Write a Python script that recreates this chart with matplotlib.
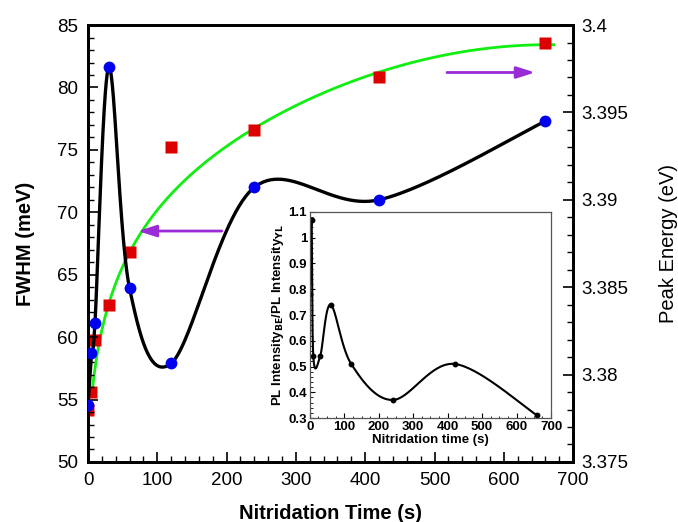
import numpy as np
import matplotlib
matplotlib.use("Agg")
import matplotlib.pyplot as plt
from matplotlib.ticker import MultipleLocator

plt.rcParams['font.family'] = ['Liberation Sans', 'DejaVu Sans']

# ---------------- data ----------------
time_s = [0, 5, 10, 30, 60, 120, 240, 420, 660]
fwhm_meV = [54.6, 58.7, 61.1, 81.6, 63.9, 57.9, 72.0, 71.0, 77.3]
peak_energy_eV = [3.3780, 3.3790, 3.3820, 3.3840, 3.3870, 3.3930, 3.3940, 3.3970, 3.3990]

# green fit curve
fit_t = [6.5, 15, 24.5, 36.5, 58, 92, 140, 188, 239, 284, 356, 421, 494, 566, 638, 672]
fit_E = [3.3788, 3.3820, 3.3837, 3.3848, 3.3864, 3.3887, 3.3913, 3.3930, 3.3940,
         3.3950, 3.3966, 3.3972, 3.3980, 3.3986, 3.3989, 3.3989]

# inset: PL intensity ratio
inset_t = [0, 5, 10, 30, 60, 120, 240, 420, 660]
inset_ratio = [0.78, 1.07, 0.54, 0.54, 0.74, 0.51, 0.37, 0.51, 0.31]

main_xticks = [0, 100, 200, 300, 400, 500, 600, 700]
left_yticks = [50, 55, 60, 65, 70, 75, 80, 85]
right_yticks = [3.375, 3.38, 3.385, 3.39, 3.395, 3.4]
right_yticklabels = ['3.375', '3.38', '3.385', '3.39', '3.395', '3.4']
inset_yticks = [0.3, 0.4, 0.5, 0.6, 0.7, 0.8, 0.9, 1.0, 1.1]
inset_yticklabels = ['0.3', '0.4', '0.5', '0.6', '0.7', '0.8', '0.9', '1', '1.1']


def catmull_rom(x, y, n=60):
    x = np.asarray(x, float)
    y = np.asarray(y, float)
    P = np.column_stack([x, y])
    P = np.vstack([P[0], P, P[-1]])
    out = []
    for i in range(1, len(P) - 2):
        p0, p1, p2, p3 = P[i - 1], P[i], P[i + 1], P[i + 2]
        t = np.linspace(0, 1, n)[:, None]
        seg = 0.5 * ((2 * p1) + (-p0 + p2) * t + (2 * p0 - 5 * p1 + 4 * p2 - p3) * t ** 2
                     + (-p0 + 3 * p1 - 3 * p2 + p3) * t ** 3)
        out.append(seg if i == 1 else seg[1:])
    out = np.vstack(out)
    return out[:, 0], out[:, 1]


fig = plt.figure(figsize=(6.78, 5.22), dpi=100)
ax = fig.add_axes([0.1298, 0.115, 0.7155, 0.837])
ax2 = ax.twinx()

# black smooth curve through FWHM
cx, cy = catmull_rom(time_s, fwhm_meV)
ax.plot(cx, cy, color='black', lw=2.4, zorder=2)
ax.plot(time_s, fwhm_meV, 'o', color='#0000EE', ms=8.5, mec='none', zorder=5)

# green fit (smooth least-squares curve through the read fit points)
u = np.sqrt(np.asarray(fit_t, float))
coef = np.polyfit(u, np.asarray(fit_E, float), 4)
uu = np.linspace(u[0], u[-1], 300)
ax2.plot(uu ** 2, np.polyval(coef, uu), color='#11EE11', lw=2.0, zorder=3)
ax2.plot(time_s, peak_energy_eV, 's', color='#DD0000', ms=9, mec='none', zorder=6)
ax.set_zorder(ax2.get_zorder() + 1)
ax.patch.set_visible(False)

ax.set_xlim(0, 700)
ax.set_ylim(50, 85)
ax2.set_ylim(3.375, 3.4)

ax.set_xticks(main_xticks)
ax.set_yticks(left_yticks)
ax.xaxis.set_minor_locator(MultipleLocator(20))
ax.yaxis.set_minor_locator(MultipleLocator(1))
ax2.set_yticks(right_yticks)
ax2.set_yticklabels(right_yticklabels)
ax2.yaxis.set_minor_locator(MultipleLocator(0.001))

ax.tick_params(axis='both', which='major', direction='in', length=7, width=1.2,
               labelsize=13.5, pad=7, top=False, right=False)
ax.tick_params(axis='both', which='minor', direction='in', length=4, width=1.0,
               top=False, right=False)
ax2.tick_params(axis='y', which='major', direction='in', length=7, width=1.2,
                labelsize=13.5, pad=6)
ax2.tick_params(axis='y', which='minor', direction='in', length=4, width=1.0)

for a in (ax, ax2):
    for s in a.spines.values():
        s.set_linewidth(2.0)

ax.set_xlabel('Nitridation Time (s)', fontsize=14.5, fontweight='bold', labelpad=11)
ax.set_ylabel('FWHM (meV)', fontsize=14.5, fontweight='bold', labelpad=16)
ax2.set_ylabel('Peak Energy (eV)', fontsize=14.5, labelpad=22)

# arrows
arrow_color = '#9A2BD6'
ax.annotate('', xy=(72, 68.5), xytext=(193, 68.5),
            arrowprops=dict(arrowstyle='-|>,head_length=1.1,head_width=0.35',
                            color=arrow_color, lw=2.0, shrinkA=0, shrinkB=0), zorder=7)
ax.annotate('', xy=(645, 81.2), xytext=(518, 81.2),
            arrowprops=dict(arrowstyle='-|>,head_length=1.1,head_width=0.35',
                            color=arrow_color, lw=2.0, shrinkA=0, shrinkB=0), zorder=7)

# inset
ins = fig.add_axes([0.457, 0.1992, 0.3557, 0.3947])
ins.set_zorder(ax.get_zorder() + 1)
ix, iy = catmull_rom(inset_t, inset_ratio)
ins.plot(ix, iy, color='black', lw=1.5)
ins.plot(inset_t, inset_ratio, 'o', color='black', ms=3.2)
ins.set_xlim(0, 700)
ins.set_ylim(0.3, 1.1)
ins.set_xticks(main_xticks)
ins.set_yticks(inset_yticks)
ins.set_yticklabels(inset_yticklabels)
ins.xaxis.set_minor_locator(MultipleLocator(25))
ins.yaxis.set_minor_locator(MultipleLocator(0.02))
ins.tick_params(axis='both', which='major', direction='in', length=3.5, width=0.8,
                labelsize=9.5, pad=2)
ins.tick_params(axis='both', which='minor', direction='in', length=1.8, width=0.6)
for lab in ins.get_xticklabels() + ins.get_yticklabels():
    lab.set_fontweight('bold')
for s in ins.spines.values():
    s.set_linewidth(0.9)
    s.set_color('#555555')
ins.set_xlabel('Nitridation time (s)', fontsize=9.5, fontweight='bold', labelpad=1)
ins.set_ylabel(r'PL Intensity$_{\mathbf{BE}}$/PL Intensity$_{\mathbf{YL}}$', fontsize=9.5,
               fontweight='bold', labelpad=2)

fig.savefig('out.png', dpi=100)
